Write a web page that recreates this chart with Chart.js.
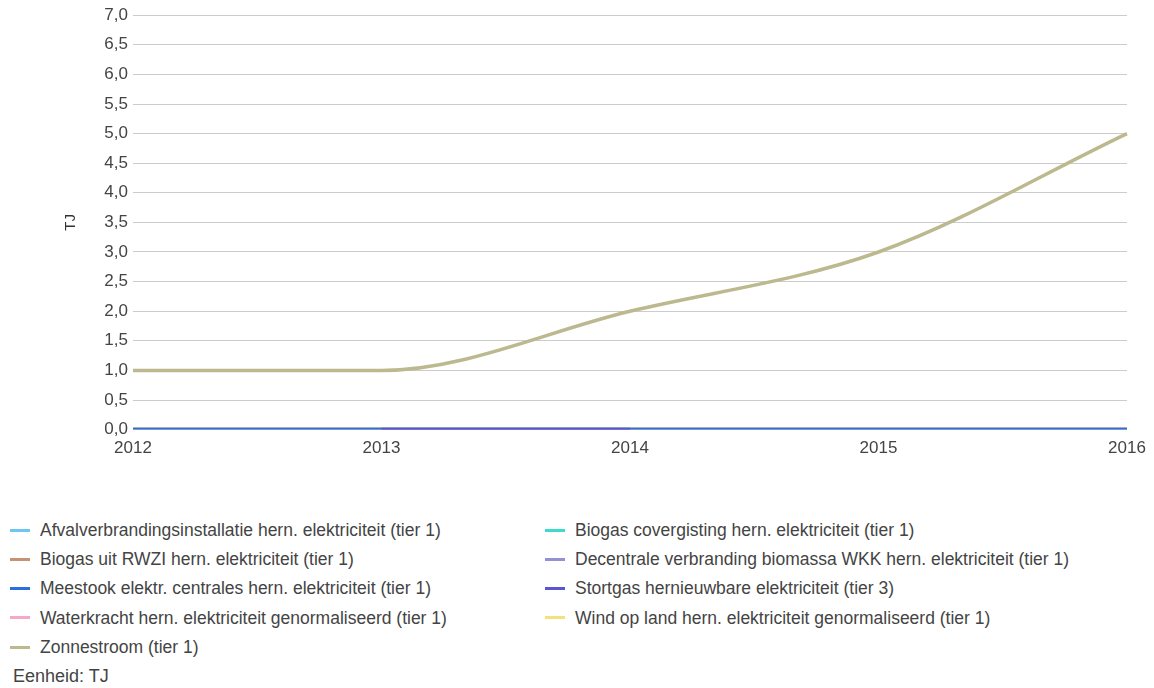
<!DOCTYPE html>
<html>
<head>
<meta charset="utf-8">
<script src="https://cdn.jsdelivr.net/npm/chart.js@4/dist/chart.umd.min.js"></script>
<style>
  body { margin: 0; background: #fff; font-family: "Liberation Sans", Arial, sans-serif; }
  #wrap { position: relative; width: 1154px; height: 460px; }
  #legend { position: absolute; top: 520px; left: 0; width: 1154px; }
  .item { position: absolute; font-size: 17.5px; color: #444; white-space: nowrap; height: 20px; line-height: 20px; }
  .item i { display: inline-block; width: 20px; height: 3px; vertical-align: middle; margin-right: 10px; position: relative; top: -1px; }
  #unit { position: absolute; left: 13px; top: 666px; font-size: 18px; color: #444; line-height: 20px; }
</style>
</head>
<body>
<div id="wrap"><canvas id="lineChart"></canvas></div>
<div id="legend"></div>
<div id="unit">Eenheid: TJ</div>
<script>
const years = ["2012", "2013", "2014", "2015", "2016"];
const yTicks = [0, 0.5, 1, 1.5, 2, 2.5, 3, 3.5, 4, 4.5, 5, 5.5, 6, 6.5, 7];

const afval = [0, 0, 0, 0, 0];
const biogasCovergisting = [0, 0, 0, 0, 0];
const biogasRwzi = [0, 0, 0, 0, 0];
const decentrale = [0, 0, 0, 0, 0];
const meestook = [0, 0, 0, 0, 0];
const stortgas = [null, 0, 0, null, null];
const waterkracht = [0, 0, 0, 0, 0];
const wind = [0, 0, 0, 0, 0];
const zonnestroom = [1, 1, 2, 3, 5];

const series = [
  { label: "Afvalverbrandingsinstallatie hern. elektriciteit (tier 1)", data: afval, color: "#6cc8f2", order: 9 },
  { label: "Biogas covergisting hern. elektriciteit (tier 1)", data: biogasCovergisting, color: "#3ddbc9", order: 8 },
  { label: "Biogas uit RWZI hern. elektriciteit (tier 1)", data: biogasRwzi, color: "#c99076", order: 7 },
  { label: "Decentrale verbranding biomassa WKK hern. elektriciteit (tier 1)", data: decentrale, color: "#9191d4", order: 6 },
  { label: "Meestook elektr. centrales hern. elektriciteit (tier 1)", data: meestook, color: "#2a6fe0", order: 2 },
  { label: "Stortgas hernieuwbare elektriciteit (tier 3)", data: stortgas, color: "#5a55d0", order: 1 },
  { label: "Waterkracht hern. elektriciteit genormaliseerd (tier 1)", data: waterkracht, color: "#f7a8c8", order: 5 },
  { label: "Wind op land hern. elektriciteit genormaliseerd (tier 1)", data: wind, color: "#f4e07c", order: 4 },
  { label: "Zonnestroom (tier 1)", data: zonnestroom, color: "#bdb98f", order: 0 },
];

// legend in two columns
const legend = document.getElementById("legend");
series.forEach((s, i) => {
  const el = document.createElement("div");
  el.className = "item";
  el.style.left = (i % 2 === 0 ? 10 : 545) + "px";
  el.style.top = Math.floor(i / 2) * 29.2 + "px";
  el.innerHTML = '<i style="background:' + s.color + '"></i>' + s.label;
  legend.appendChild(el);
});

const ctx = document.getElementById("lineChart").getContext("2d");
new Chart(ctx, {
  type: "line",
  data: {
    labels: years,
    datasets: series.map((s) => ({
      label: s.label,
      data: s.data,
      borderColor: s.color,
      backgroundColor: s.color,
      borderWidth: 3.5,
      pointRadius: 0,
      cubicInterpolationMode: "monotone",
      order: s.order,
    })),
  },
  options: {
    responsive: true,
    maintainAspectRatio: false,
    animation: false,
    layout: { padding: { left: 58, right: 27, top: 11, bottom: 0 } },
    plugins: { legend: { display: false }, tooltip: { enabled: false } },
    scales: {
      x: {
        offset: false,
        grid: { display: false },
        border: { display: false },
        ticks: { color: "#444", font: { family: "Liberation Sans", size: 17 }, maxRotation: 0, padding: 1 },
      },
      y: {
        min: 0,
        max: 7,
        afterBuildTicks: (scale) => { scale.ticks = yTicks.map((v) => ({ value: v })); },
        afterFit: (scale) => { scale.width = 75; },
        grid: { color: "#cccccc", drawTicks: false },
        border: { display: false },
        title: { display: true, text: "TJ", color: "#333", font: { family: "Liberation Sans", size: 15 }, padding: { top: 4, bottom: 0 } },
        ticks: {
          color: "#444",
          padding: 5,
          font: { family: "Liberation Sans", size: 17 },
          callback: (v) => v.toFixed(1).replace(".", ","),
        },
      },
    },
  },
});
</script>
</body>
</html>
